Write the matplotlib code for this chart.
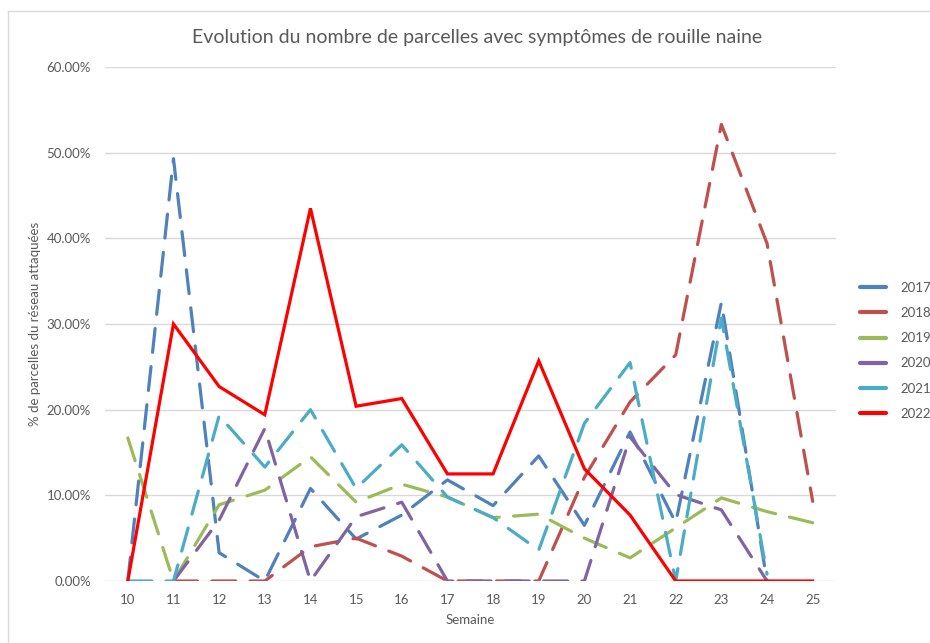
import numpy as np
import matplotlib
matplotlib.use("Agg")
import matplotlib.pyplot as plt
from matplotlib.lines import Line2D
import matplotlib.ticker as ticker

plt.rcParams['font.family'] = ['Lato', 'DejaVu Sans']

nan = np.nan
semaines = list(range(10, 26))

# % de parcelles attaquées, par semaine (10 -> 25)
v2017 = [0, 49.3, 3.3, 0, 10.8, 4.9, 7.7, 11.8, 8.8, 14.6, 6.5, 17.4, 6.8, 32.5, 0, nan]
v2018 = [nan, 0, 0, 0, 4.0, 5.0, 2.9, 0, 0, 0, 12.1, 20.9, 26.4, 53.3, 39.4, 9.3]
v2019 = [16.7, 0, 8.9, 10.6, 14.5, 9.2, 11.3, 9.8, 7.4, 7.8, 5.0, 2.7, 6.2, 9.7, 8.1, 6.8]
v2020 = [nan, 0, 7.1, 17.8, 0, 7.5, 9.2, 0, 0, 0, 0, 16.8, 10.1, 8.3, 0, nan]
v2021 = [0, 0, 19.3, 13.3, 20.0, 10.8, 15.9, 9.8, 7.4, 3.6, 18.4, 25.5, 0, 30.7, 0.8, nan]
v2022 = [0, 30.0, 22.7, 19.4, 43.5, 20.4, 21.3, 12.5, 12.5, 25.7, 13.1, 7.7, 0, 0, 0, 0]

annees = ['2017', '2018', '2019', '2020', '2021', '2022']
series = [v2017, v2018, v2019, v2020, v2021, v2022]
couleurs = ['#4F81BD', '#C0504D', '#9BBB59', '#8064A2', '#4BACC6', '#FF0000']

fig = plt.figure(figsize=(9.3, 6.43), dpi=100)
ax = fig.add_axes([105/930, 1-581/643, (835.5-105)/930, (581-67)/643])

for nom, vals, c in zip(annees, series, couleurs):
    if nom == '2022':
        ax.plot(semaines, vals, color=c, lw=2.3, solid_joinstyle='miter', zorder=3)
    else:
        ax.plot(semaines, vals, color=c, lw=2.3, linestyle=(0, (7.5, 4.5)),
                dash_capstyle='round', dash_joinstyle='round', zorder=2)

ax.set_xlim(9.5, 25.5)
ax.set_ylim(0, 60)
ax.set_xticks(semaines)
ax.set_yticks(np.arange(0, 61, 10))
ax.yaxis.set_major_formatter(ticker.FuncFormatter(lambda v, p: '%.2f%%' % v))
ax.grid(axis='y', color='#D9D9D9', lw=1)
ax.set_axisbelow(True)
for s in ax.spines.values():
    s.set_visible(False)
ax.tick_params(length=0, colors='#595959', labelsize=9.5)
ax.tick_params(axis='x', pad=9)
ax.tick_params(axis='y', pad=10)

ax.set_xlabel('Semaine', color='#595959', fontsize=9.5, labelpad=6)
ax.set_ylabel('% de parcelles du réseau attaquées', color='#595959', fontsize=9.5, labelpad=4)
fig.text(477/930, 1-38/643, 'Evolution du nombre de parcelles avec symptômes de rouille naine',
         ha='center', va='center', fontsize=14, color='#595959')

handles = [Line2D([], [], color=c, lw=3, solid_capstyle='round') for c in couleurs]
fig.legend(handles, annees, loc='upper left', bbox_to_anchor=(848/930, 1-270/643),
           frameon=False, fontsize=9.5, labelcolor='#595959', handlelength=2.0,
           handletextpad=1.1, labelspacing=1.0)

# cadre du graphique
fig.add_artist(Line2D([8/930, 8/930], [0, 1-11/643], color='#D9D9D9', lw=1))
fig.add_artist(Line2D([8/930, 1], [1-11/643, 1-11/643], color='#D9D9D9', lw=1))

fig.savefig('out.png', dpi=100)
